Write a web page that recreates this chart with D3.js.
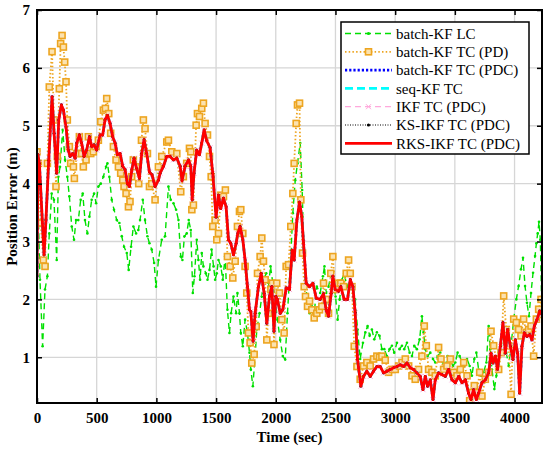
<!DOCTYPE html>
<html>
<head>
<meta charset="utf-8">
<script src="https://cdn.jsdelivr.net/npm/d3@7"></script>
<style>
  body { margin: 0; background: #fff; }
  text { font-family: "Liberation Serif", "Times New Roman", serif; }
</style>
</head>
<body>
<div id="chart"></div>
<script>
// data: [time (sec), position error (m)]
var batchKfLc = [[0,4.35],[25,2.34],[47,1.19],[67,2.17],[87,2.4],[103,3.14],[123,3.83],[142,3.72],[165,2.68],[179,4.12],[193,4.29],[215,4.93],[235,4.41],[254,4.12],[271,3.78],[291,3.26],[310,3.03],[327,3.37],[346,3.37],[366,3.72],[383,3.83],[402,3.37],[422,3.14],[439,3.43],[458,3.72],[478,3.83],[495,3.66],[514,3.95],[534,4.0],[556,4.12],[578,4.29],[590,4.35],[606,4.12],[626,3.72],[645,3.55],[668,3.37],[690,3.32],[710,3.09],[729,2.91],[752,2.8],[768,2.51],[788,2.91],[807,3.26],[830,3.14],[849,3.2],[863,3.37],[886,3.72],[905,3.37],[925,3.09],[942,2.97],[961,2.86],[981,2.63],[997,2.22],[1017,2.68],[1045,3.03],[1073,3.09],[1101,3.95],[1120,3.72],[1143,3.66],[1165,3.55],[1185,3.37],[1204,2.74],[1218,2.68],[1235,3.09],[1254,3.14],[1271,3.37],[1288,3.2],[1305,2.11],[1319,2.4],[1338,3.03],[1352,2.68],[1366,2.34],[1380,2.8],[1394,2.57],[1414,2.45],[1428,2.34],[1445,2.51],[1462,2.86],[1479,2.57],[1492,2.34],[1506,2.45],[1520,2.68],[1540,2.57],[1556,2.34],[1576,2.74],[1595,1.82],[1612,1.42],[1626,1.76],[1646,2.05],[1668,1.76],[1679,2.11],[1696,1.76],[1707,1.42],[1724,1.19],[1743,1.65],[1763,1.42],[1780,1.08],[1791,0.79],[1808,0.5],[1827,1.02],[1841,1.48],[1864,1.76],[1883,2.05],[1897,2.34],[1920,2.45],[1939,2.22],[1956,2.57],[1975,2.28],[1995,2.0],[2014,1.65],[2037,1.3],[2059,1.02],[2079,0.96],[2098,1.76],[2121,2.57],[2143,3.49],[2163,4.06],[2182,4.35],[2205,4.7],[2221,3.89],[2233,3.03],[2249,2.34],[2266,1.88],[2283,1.76],[2302,1.88],[2322,1.76],[2344,2.22],[2372,2.11],[2395,2.4],[2408,2.57],[2422,2.11],[2442,2.22],[2464,2.45],[2484,2.28],[2501,2.05],[2518,1.65],[2535,2.0],[2554,2.34],[2574,2.45],[2596,2.22],[2624,2.34],[2646,2.22],[2665,2.0],[2685,1.48],[2707,0.97],[2730,1.25],[2750,1.43],[2769,1.54],[2786,1.37],[2805,1.48],[2825,1.31],[2847,1.43],[2869,1.37],[2889,1.14],[2909,1.14],[2931,1.02],[2953,1.14],[2973,1.2],[2992,1.08],[3015,1.25],[3037,1.14],[3057,1.2],[3076,1.14],[3099,1.25],[3121,1.08],[3141,1.02],[3160,1.2],[3182,1.14],[3205,1.31],[3224,1.71],[3238,1.43],[3252,1.14],[3272,1.02],[3294,1.08],[3317,0.97],[3336,0.91],[3356,1.02],[3378,1.08],[3400,0.91],[3420,0.85],[3439,1.02],[3462,0.97],[3484,0.85],[3504,0.91],[3523,1.08],[3540,1.02],[3560,0.91],[3579,0.85],[3602,0.97],[3624,0.85],[3643,0.68],[3663,0.97],[3680,1.08],[3699,0.79],[3719,0.68],[3741,0.74],[3764,0.91],[3783,1.54],[3797,1.14],[3811,0.79],[3831,0.45],[3848,0.68],[3867,1.08],[3887,1.2],[3909,1.37],[3931,1.08],[3951,0.85],[3971,1.2],[3993,1.66],[4015,2.0],[4034,2.23],[4054,2.52],[4071,2.72],[4088,2.23],[4104,1.94],[4121,1.71],[4138,2.11],[4155,2.46],[4172,2.75],[4183,2.97],[4194,3.14],[4205,3.34],[4216,3.03],[4228,1.85]];

var batchKfTcPd = [[0,4.55],[12,4.35],[31,3.32],[53,2.68],[67,2.57],[87,4.35],[103,5.67],[126,6.28],[142,5.1],[159,3.95],[170,4.47],[187,5.64],[198,6.42],[210,6.56],[221,6.36],[232,6.1],[243,5.76],[254,5.1],[271,4.64],[282,4.35],[305,4.29],[313,4.09],[332,4.52],[355,4.81],[374,4.52],[388,4.29],[411,4.41],[430,4.81],[450,4.52],[472,4.55],[495,4.64],[514,4.75],[534,5.07],[556,5.27],[573,5.3],[584,5.47],[601,5.21],[617,4.87],[640,4.64],[662,4.41],[682,4.29],[701,4.18],[718,4.06],[729,3.95],[746,3.83],[766,3.6],[779,3.69],[793,4.12],[807,4.41],[830,4.29],[852,4.0],[875,4.75],[891,5.1],[905,4.95],[925,4.52],[942,3.95],[961,4.0],[989,3.72],[1017,4.29],[1045,4.47],[1087,4.72],[1101,4.75],[1129,4.55],[1171,4.52],[1204,3.86],[1226,4.12],[1254,4.35],[1277,4.61],[1288,4.55],[1297,3.55],[1310,3.63],[1333,5.01],[1344,5.21],[1361,5.16],[1380,5.3],[1394,5.39],[1408,5.04],[1428,4.84],[1445,4.47],[1459,4.12],[1472,3.26],[1492,3.37],[1506,3.03],[1520,3.14],[1540,3.8],[1562,3.78],[1578,3.89],[1595,2.74],[1618,2.57],[1640,2.37],[1660,2.66],[1679,3.26],[1696,3.52],[1707,3.55],[1724,3.14],[1743,2.57],[1757,2.11],[1771,1.42],[1785,1.25],[1799,0.9],[1819,1.05],[1836,1.53],[1847,2.45],[1869,2.74],[1883,3.06],[1897,2.66],[1911,2.34],[1925,1.3],[1939,1.76],[1959,2.17],[1972,2.28],[1985,1.22],[2008,2.28],[2031,2.11],[2051,1.65],[2070,1.42],[2087,2.57],[2107,2.6],[2126,3.26],[2143,3.83],[2154,4.35],[2171,5.04],[2182,5.36],[2199,5.39],[2210,3.72],[2224,2.8],[2238,2.22],[2249,2.05],[2266,1.88],[2283,1.97],[2302,1.82],[2322,1.68],[2344,1.76],[2366,1.82],[2386,1.88],[2400,2.28],[2422,2.0],[2442,1.76],[2461,2.45],[2478,2.74],[2498,2.17],[2526,2.28],[2545,2.28],[2568,2.22],[2590,2.45],[2610,2.68],[2624,2.45],[2638,2.22],[2657,1.19],[2680,0.84],[2707,0.62],[2735,0.85],[2763,0.91],[2791,0.85],[2819,0.97],[2847,1.02],[2869,1.0],[2889,1.02],[2917,0.95],[2945,0.74],[2973,0.79],[3001,0.79],[3029,0.85],[3057,0.91],[3085,0.97],[3113,0.85],[3141,0.68],[3168,0.62],[3196,0.79],[3224,1.02],[3244,1.54],[3261,1.2],[3280,0.79],[3308,0.74],[3336,0.68],[3364,1.17],[3384,0.97],[3406,0.79],[3434,0.85],[3462,0.97],[3490,0.74],[3518,0.68],[3546,0.79],[3574,0.91],[3602,0.68],[3624,0.25],[3643,0.39],[3663,0.51],[3685,0.39],[3708,0.74],[3727,0.33],[3755,0.62],[3783,0.74],[3803,1.45],[3825,1.2],[3848,0.97],[3867,0.79],[3887,1.08],[3909,2.06],[3931,1.48],[3951,1.2],[3971,0.36],[3993,1.66],[4015,1.6],[4034,1.48],[4054,1.37],[4076,1.66],[4099,1.43],[4118,1.48],[4138,1.54],[4160,1.02],[4183,1.66],[4202,1.83],[4222,2.0],[4230,1.74]];

var rksIkfTcPdc = [[0,2.4],[8,4.5],[20,4.35],[59,2.77],[75,3.37],[98,4.4],[126,5.5],[143,4.87],[165,4.18],[182,5.1],[204,5.36],[221,5.27],[243,4.98],[262,4.58],[277,4.47],[299,4.52],[319,4.44],[333,4.7],[355,4.84],[374,4.7],[394,4.47],[416,4.58],[439,4.81],[458,4.64],[478,4.67],[500,4.58],[528,4.84],[550,4.84],[570,5.1],[590,5.18],[612,5.04],[634,4.81],[654,4.7],[673,4.5],[696,4.52],[718,4.3],[738,4.24],[757,4.0],[774,3.95],[794,4.24],[813,4.44],[835,4.26],[858,4.09],[877,4.52],[897,4.76],[919,4.52],[942,4.2],[964,4.15],[989,3.95],[1017,4.06],[1031,4.18],[1059,4.3],[1087,4.47],[1115,4.47],[1143,4.41],[1171,4.44],[1199,4.3],[1215,4.05],[1240,4.3],[1269,4.41],[1288,4.3],[1300,3.72],[1315,4.18],[1338,4.58],[1361,4.5],[1380,4.7],[1400,4.93],[1422,4.74],[1450,4.62],[1472,4.18],[1500,3.42],[1520,3.8],[1539,3.57],[1562,3.75],[1584,3.6],[1604,3.03],[1623,2.97],[1646,2.77],[1668,2.97],[1682,3.14],[1701,3.26],[1724,3.03],[1743,2.68],[1763,2.22],[1780,1.82],[1791,1.79],[1810,1.28],[1827,1.76],[1855,2.22],[1878,2.45],[1903,2.1],[1925,1.59],[1947,2.05],[1967,2.22],[1985,1.45],[2000,2.05],[2014,2.0],[2037,1.76],[2059,1.82],[2087,2.2],[2115,2.17],[2137,2.85],[2154,2.68],[2177,3.37],[2199,3.68],[2218,3.43],[2232,2.98],[2255,2.28],[2283,2.22],[2311,2.28],[2339,2.02],[2372,2.0],[2400,2.1],[2422,1.82],[2442,1.71],[2464,2.1],[2478,2.4],[2498,2.17],[2526,2.14],[2545,2.22],[2573,2.0],[2601,2.0],[2624,2.34],[2646,2.22],[2665,1.77],[2685,0.96],[2713,0.5],[2735,0.67],[2763,0.76],[2791,0.67],[2819,0.76],[2847,0.84],[2875,0.84],[2903,0.73],[2931,0.76],[2959,0.79],[2987,0.82],[3015,0.84],[3043,0.87],[3071,0.84],[3099,0.9],[3127,0.82],[3154,0.79],[3182,0.73],[3210,0.67],[3233,0.44],[3252,0.67],[3272,0.5],[3294,0.61],[3317,0.27],[3336,0.61],[3364,0.73],[3392,0.7],[3420,0.67],[3448,0.79],[3476,0.61],[3504,0.56],[3532,0.67],[3560,0.56],[3588,0.61],[3615,0.38],[3635,0.27],[3657,0.44],[3680,0.27],[3699,0.38],[3727,0.56],[3755,0.61],[3783,0.73],[3803,1.07],[3820,0.9],[3839,1.02],[3858,0.79],[3881,1.19],[3903,1.6],[3923,1.07],[3942,1.48],[3965,1.19],[3987,0.96],[4007,1.3],[4026,1.07],[4043,0.38],[4062,1.19],[4082,1.42],[4104,1.36],[4127,1.39],[4146,1.3],[4166,1.54],[4188,1.65],[4211,1.8],[4230,1.74]];

// the PDC tightly coupled filters sit on top of each other in the figure
var batchKfTcPdc = rksIkfTcPdc;
var seqKfTc = rksIkfTcPdc;
var ikfTcPdc = rksIkfTcPdc;
var ksIkfTcPdc = rksIkfTcPdc;

var legendLabels = ["batch-KF LC", "batch-KF TC (PD)", "batch-KF TC (PDC)", "seq-KF TC",
                    "IKF TC (PDC)", "KS-IKF TC (PDC)", "RKS-IKF TC (PDC)"];
var xTicks = [0, 500, 1000, 1500, 2000, 2500, 3000, 3500, 4000];
var yTicks = [1, 2, 3, 4, 5, 6, 7];

// chart setup
var svgWidth = 550;
var svgHeight = 452;
var margin = {top: 10, right: 8, bottom: 49, left: 37};
var width = svgWidth - margin.left - margin.right;
var height = svgHeight - margin.top - margin.bottom;

var svg = d3.select("#chart")
  .append("svg")
  .attr("width", svgWidth)
  .attr("height", svgHeight);

var chartGroup = svg.append("g")
  .attr("transform", `translate(${margin.left}, ${margin.top})`);

var xScale = d3.scaleLinear().domain([0, 4230]).range([0, width]);
var yScale = d3.scaleLinear().domain([0.21, 7]).range([height, 0]);

svg.append("defs").append("clipPath").attr("id", "plotClip")
  .append("rect").attr("width", width).attr("height", height);

// grid
chartGroup.append("g").selectAll("line")
  .data(xTicks).enter().append("line")
  .attr("x1", d => xScale(d)).attr("x2", d => xScale(d))
  .attr("y1", 0).attr("y2", height)
  .attr("stroke", "#d6d6d6").attr("stroke-width", 1.3);
chartGroup.append("g").selectAll("line")
  .data(yTicks).enter().append("line")
  .attr("x1", 0).attr("x2", width)
  .attr("y1", d => yScale(d)).attr("y2", d => yScale(d))
  .attr("stroke", "#d6d6d6").attr("stroke-width", 1.3);

var line = d3.line().x(d => xScale(d[0])).y(d => yScale(d[1]));
var plot = chartGroup.append("g").attr("clip-path", "url(#plotClip)");

var styles = [
  {data: batchKfLc, color: "#00e000", width: 1.4, dash: "6,4", marker: "dot"},
  {data: batchKfTcPd, color: "#eda520", width: 1.8, dash: "1.5,2.2", marker: "square"},
  {data: batchKfTcPdc, color: "#0000ff", width: 2.6, dash: "2.2,2", marker: null},
  {data: seqKfTc, color: "#00ffff", width: 2.6, dash: "8,4", marker: null},
  {data: ikfTcPdc, color: "#ffa8dc", width: 1.3, dash: "6,4", marker: "cross"},
  {data: ksIkfTcPdc, color: "#000000", width: 1.1, dash: "1,1.5", marker: "blackdot"},
  {data: rksIkfTcPdc, color: "#ff0000", width: 2.8, dash: null, marker: null}
];

function drawMarkers(g, data, s) {
  if (s.marker === "dot" || s.marker === "blackdot") {
    g.selectAll("circle").data(data).enter().append("circle")
      .attr("cx", d => xScale(d[0])).attr("cy", d => yScale(d[1]))
      .attr("r", s.marker === "dot" ? 1.3 : 1.4)
      .attr("fill", s.color);
  } else if (s.marker === "square") {
    g.selectAll("rect").data(data).enter().append("rect")
      .attr("x", d => xScale(d[0]) - 3).attr("y", d => yScale(d[1]) - 3)
      .attr("width", 6).attr("height", 6)
      .attr("fill", "#fbe2b0").attr("stroke", s.color).attr("stroke-width", 1.6);
  } else if (s.marker === "cross") {
    g.selectAll("path").data(data).enter().append("path")
      .attr("d", d => {
        var cx = xScale(d[0]), cy = yScale(d[1]);
        return `M${cx-2.5},${cy-2.5}L${cx+2.5},${cy+2.5}M${cx-2.5},${cy+2.5}L${cx+2.5},${cy-2.5}`;
      })
      .attr("stroke", s.color).attr("stroke-width", 1);
  }
}

styles.forEach(function(s) {
  var g = plot.append("g");
  g.append("path").datum(s.data)
    .attr("d", line)
    .attr("fill", "none")
    .attr("stroke", s.color)
    .attr("stroke-width", s.width)
    .attr("stroke-dasharray", s.dash)
    .attr("stroke-linejoin", "round");
  drawMarkers(g.append("g"), s.data, s);
});

// axes, ticks pointing inward on all four sides
var bottomAxis = d3.axisBottom(xScale).tickValues(xTicks).tickFormat(d3.format("d"))
  .tickSizeInner(-5).tickSizeOuter(0).tickPadding(9);
var leftAxis = d3.axisLeft(yScale).tickValues(yTicks).tickFormat(d3.format("d"))
  .tickSizeInner(-5).tickSizeOuter(0).tickPadding(7);
var topAxis = d3.axisTop(xScale).tickValues(xTicks).tickSizeInner(-5).tickSizeOuter(0).tickFormat("");
var rightAxis = d3.axisRight(yScale).tickValues(yTicks).tickSizeInner(-5).tickSizeOuter(0).tickFormat("");

chartGroup.append("g").attr("transform", `translate(0, ${height})`).call(bottomAxis);
chartGroup.append("g").call(leftAxis);
chartGroup.append("g").call(topAxis);
chartGroup.append("g").attr("transform", `translate(${width}, 0)`).call(rightAxis);

chartGroup.selectAll(".domain").remove();
chartGroup.selectAll(".tick line").attr("stroke", "#000").attr("stroke-width", 1.5);
chartGroup.selectAll(".tick text")
  .attr("font-family", "'Liberation Serif', 'Times New Roman', serif")
  .attr("font-size", 15).attr("font-weight", "bold").attr("fill", "#000");

chartGroup.append("rect")
  .attr("width", width).attr("height", height)
  .attr("fill", "none").attr("stroke", "#000").attr("stroke-width", 2);

// axis labels
chartGroup.append("text")
  .attr("x", width / 2).attr("y", height + 39)
  .attr("text-anchor", "middle")
  .attr("font-size", 15).attr("font-weight", "bold")
  .text("Time (sec)");

chartGroup.append("text")
  .attr("transform", "rotate(-90)")
  .attr("x", -height / 2).attr("y", -margin.left + 17)
  .attr("text-anchor", "middle")
  .attr("font-size", 15).attr("font-weight", "bold")
  .text("Position Error (m)");

// legend
var legend = svg.append("g").attr("transform", "translate(341, 22)");
legend.append("rect")
  .attr("width", 188).attr("height", 132)
  .attr("fill", "#fff").attr("stroke", "#000").attr("stroke-width", 1.5);

var legendItems = legend.selectAll(".item")
  .data(styles).enter().append("g")
  .attr("transform", (d, i) => `translate(0, ${11.5 + i * 18.3})`);

legendItems.append("line")
  .attr("x1", 4).attr("x2", 51).attr("y1", 0).attr("y2", 0)
  .attr("stroke", d => d.color)
  .attr("stroke-width", d => d.width)
  .attr("stroke-dasharray", d => d.dash);

legendItems.each(function(s) {
  var g = d3.select(this);
  if (s.marker === "dot" || s.marker === "blackdot") {
    g.append("circle").attr("cx", 27.5).attr("cy", 0).attr("r", 1.6).attr("fill", s.color);
  } else if (s.marker === "square") {
    g.append("rect").attr("x", 24.5).attr("y", -3).attr("width", 6).attr("height", 6)
      .attr("fill", "#fbe2b0").attr("stroke", s.color).attr("stroke-width", 1.6);
  } else if (s.marker === "cross") {
    g.append("path").attr("d", "M25,-2.5L30,2.5M25,2.5L30,-2.5")
      .attr("stroke", s.color).attr("stroke-width", 1);
  }
});

legendItems.append("text")
  .attr("x", 55).attr("y", 0).attr("dy", "0.35em")
  .attr("font-size", 15).attr("fill", "#000")
  .text((d, i) => legendLabels[i]);
</script>
</body>
</html>
